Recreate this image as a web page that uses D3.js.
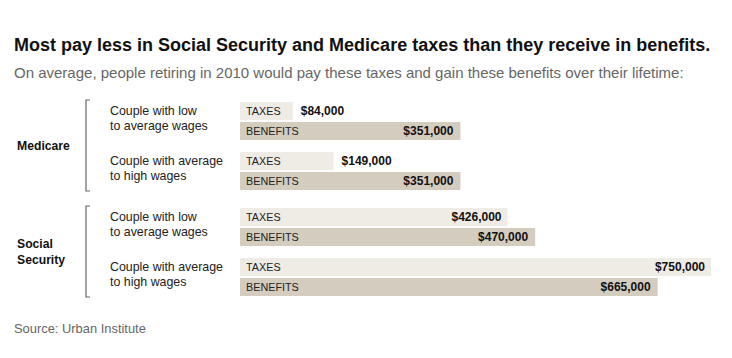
<!DOCTYPE html>
<html><head><meta charset="utf-8">
<script src="https://cdn.jsdelivr.net/npm/d3@7"></script>
<style>body{margin:0;background:#fff;}svg{display:block;font-family:"Liberation Sans",Arial,sans-serif;}</style>
</head><body><svg id="c" width="732" height="358"></svg>
<script>
const programs = ["Medicare", "Social Security"];
const couples = ["Couple with low|to average wages", "Couple with average|to high wages"];
const taxes = [84000, 149000, 426000, 750000];
const benefits = [351000, 351000, 470000, 665000];
const title = "Most pay less in Social Security and Medicare taxes than they receive in benefits.";
const subtitle = "On average, people retiring in 2010 would pay these taxes and gain these benefits over their lifetime:";
const source = "Source: Urban Institute";

const svg = d3.select("#c");
const x0 = 240;
const x = d3.scaleLinear().domain([0, 750000]).range([0, 471]);
const fmt = d => "$" + d3.format(",")(d);

svg.append("text").attr("x", 14).attr("y", 51).attr("font-size", 18).attr("font-weight", "bold").attr("fill", "#111").text(title);
svg.append("text").attr("x", 14).attr("y", 78).attr("font-size", 15).attr("fill", "#666").text(subtitle);
svg.append("text").attr("x", 14).attr("y", 333).attr("font-size", 12.9).attr("fill", "#666").text(source);

const rowTops = [102, 152, 208, 258];
const bh = 18, gap = 2;
const taxCol = "#efece5", benCol = "#d4ccbe";

rowTops.forEach((t, i) => {
  const g = svg.append("g");
  const tw = x(taxes[i]);
  g.append("rect").attr("x", x0).attr("y", t).attr("width", tw).attr("height", bh).attr("fill", taxCol);
  g.append("text").attr("x", x0 + 6).attr("y", t + 13).attr("font-size", 10.8).attr("fill", "#222").text("TAXES");
  const inside = tw > 120;
  g.append("text").attr("x", inside ? x0 + tw - 6 : x0 + tw + 8).attr("y", t + 13)
    .attr("text-anchor", inside ? "end" : "start").attr("font-size", 12).attr("font-weight", "bold").attr("fill", "#111")
    .text(fmt(taxes[i]));
  const bt = t + bh + gap;
  const bw = x(benefits[i]);
  g.append("rect").attr("x", x0).attr("y", bt).attr("width", bw).attr("height", bh).attr("fill", benCol);
  g.append("text").attr("x", x0 + 6).attr("y", bt + 13).attr("font-size", 10.8).attr("fill", "#222").text("BENEFITS");
  g.append("text").attr("x", x0 + bw - 7).attr("y", bt + 13).attr("text-anchor", "end")
    .attr("font-size", 12).attr("font-weight", "bold").attr("fill", "#111").text(fmt(benefits[i]));
  const lines = couples[i % 2].split("|");
  lines.forEach((ln, k) => {
    g.append("text").attr("x", 110).attr("y", t + 13 + k * 15).attr("font-size", 12.4).attr("fill", "#222").text(ln);
  });
});

programs.forEach((p, j) => {
  const top = rowTops[j * 2] - 2;
  const bot = rowTops[j * 2 + 1] + 2 * bh + gap + 1;
  svg.append("path").attr("d", `M90,${top}H86V${bot}H90`).attr("fill", "none").attr("stroke", "#666").attr("stroke-width", 1.2);
  const mid = (top + bot) / 2;
  const words = p.split(" ");
  const lh = 16;
  words.forEach((w, k) => {
    svg.append("text").attr("x", 17).attr("y", mid + 4 + (k - (words.length - 1) / 2) * lh)
      .attr("font-size", 12.2).attr("font-weight", "bold").attr("fill", "#111").text(w);
  });
});
</script></body></html>
